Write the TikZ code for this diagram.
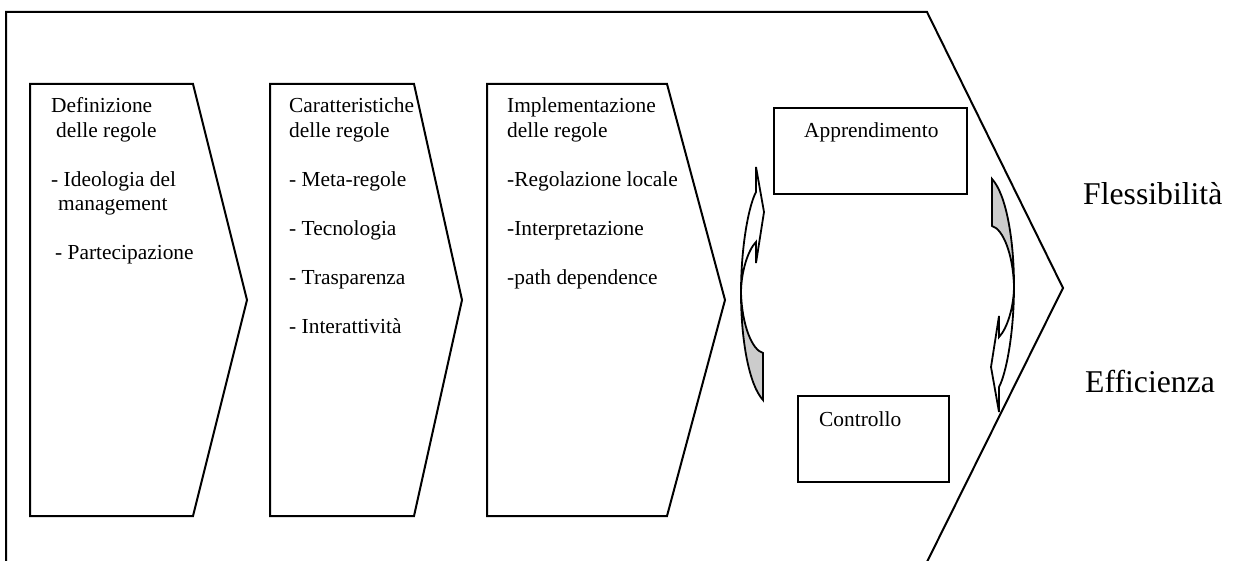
\documentclass[tikz,border=0pt]{standalone}
\usepackage{fontspec}
\setmainfont{Liberation Serif}
\definecolor{backgray}{RGB}{204,204,204}
\tikzset{
  shp/.style={draw=black, line width=2pt, line join=miter},
  body/.style={font=\fontsize{21.4}{24.5}\selectfont, inner sep=0pt, anchor=base west},
  big/.style={font=\fontsize{31.7}{36}\selectfont, inner sep=0pt, anchor=base west},
  backface/.style={fill=backgray, draw=black, line width=1.8pt},
  frontface/.style={fill=white, draw=black, line width=1.8pt},
}
\newcommand\drawturnarrow{%
  \draw[backface] (741,293) .. controls (741,340) and (749,385) .. (763,400)
     -- (763,353) .. controls (752,350) and (742,325) .. cycle;
  \draw[frontface] (756,167) -- (764,212) -- (756,263) -- (756,242)
     .. controls (748,250) and (741,272) .. (741,293)
     .. controls (741,245) and (749,205) .. (756,192) -- cycle;
}
\newcommand\linesblock[1]{\begin{tabular}[t]{@{}l@{}}#1\end{tabular}}
\begin{document}
\begin{tikzpicture}[x=1pt,y=-1pt]
\useasboundingbox (0,0) rectangle (1234,561);
\clip (0,0) rectangle (1234,561);
% outer arrow
\draw[shp] (6,580) -- (6,12) -- (927,12) -- (1063,288) -- (918,580);
% chevrons
\draw[shp] (30,84) -- (193,84) -- (247,300) -- (193,516) -- (30,516) -- cycle;
\draw[shp] (270,84) -- (414,84) -- (462,300) -- (414,516) -- (270,516) -- cycle;
\draw[shp] (487,84) -- (667,84) -- (725,300) -- (667,516) -- (487,516) -- cycle;
% boxes
\draw[shp] (774,108) rectangle (967,194);
\draw[shp] (798,396) rectangle (949,482);
% texts
\node[body] (c1text) at (51,113) {\linesblock{Definizione\\\hspace*{5pt}delle regole\\ \\- Ideologia del\\\hspace*{7pt}management\\ \\\hspace*{4pt}- Partecipazione}};
\node[body] (c2text) at (289,113) {\linesblock{Caratteristiche\\delle regole\\ \\- Meta-regole\\ \\- Tecnologia\\ \\- Trasparenza\\ \\- Interattivit\`a}};
\node[body] (c3text) at (507,113) {\linesblock{Implementazione\\delle regole\\ \\-Regolazione locale\\ \\-Interpretazione\\ \\-path dependence}};
\node[body] (apptext) at (804,138) {Apprendimento};
\node[body] (ctrltext) at (819,426) {Controllo};
\node[big] (flex) at (1083,205) {Flessibilit\`a};
\node[big] (eff) at (1085,392) {Efficienza};
% curved arrows
\drawturnarrow
\begin{scope}[rotate around={180:(877.5,289.5)}]
\drawturnarrow
\end{scope}
\end{tikzpicture}
\end{document}
